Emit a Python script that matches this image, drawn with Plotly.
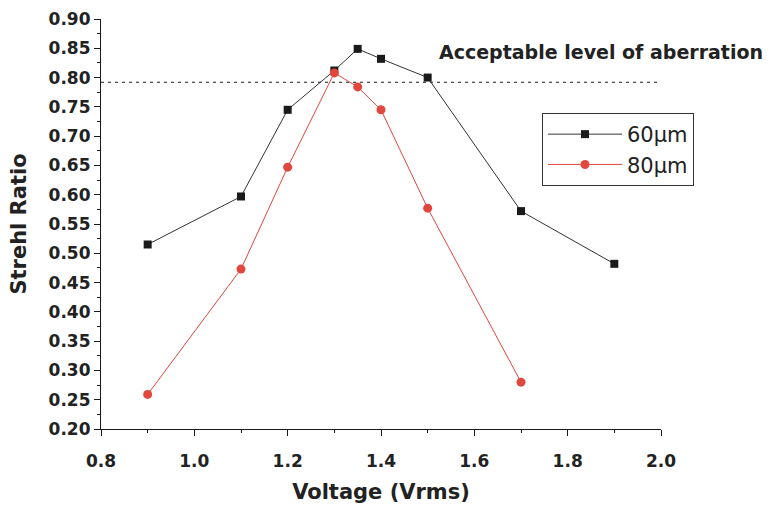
import plotly.graph_objects as go

# Measured Strehl ratio against drive voltage for two cell thicknesses
voltage_60 = [0.9, 1.1, 1.2, 1.3, 1.35, 1.4, 1.5, 1.7, 1.9]
strehl_60 = [0.515, 0.597, 0.745, 0.812, 0.849, 0.832, 0.800, 0.572, 0.482]

voltage_80 = [0.9, 1.1, 1.2, 1.3, 1.35, 1.4, 1.5, 1.7]
strehl_80 = [0.259, 0.473, 0.647, 0.808, 0.784, 0.745, 0.577, 0.280]

acceptable_level = 0.792
x_ticks = [0.8, 1.0, 1.2, 1.4, 1.6, 1.8, 2.0]
y_ticks = [0.20, 0.25, 0.30, 0.35, 0.40, 0.45, 0.50, 0.55, 0.60,
           0.65, 0.70, 0.75, 0.80, 0.85, 0.90]

BLACK = "#1a1a1a"
RED = "#e2473d"
BOLD = "DejaVu Sans"

fig = go.Figure()

# Acceptable-level threshold
fig.add_trace(go.Scatter(
    x=[0.8, 2.0], y=[acceptable_level, acceptable_level],
    mode="lines", line=dict(color=BLACK, width=1.2, dash="3px,4px"),
    showlegend=False, hoverinfo="skip"))

fig.add_trace(go.Scatter(
    x=voltage_60, y=strehl_60, mode="lines+markers", name="60µm",
    line=dict(color="#333333", width=1),
    marker=dict(symbol="square", size=8, color=BLACK)))

fig.add_trace(go.Scatter(
    x=voltage_80, y=strehl_80, mode="lines+markers", name="80µm",
    line=dict(color=RED, width=1),
    marker=dict(symbol="circle", size=9, color=RED)))

axis_common = dict(
    showline=True, linecolor=BLACK, linewidth=1.2, mirror=False,
    showgrid=False, zeroline=False, ticks="outside", ticklen=6,
    tickcolor=BLACK, tickwidth=1.2, automargin=False,
    tickfont=dict(family=BOLD, size=17, color="#222222", weight="bold"),
)

fig.update_xaxes(
    range=[0.8, 2.0], tickvals=x_ticks, ticktext=[f"{v:.1f}" for v in x_ticks],
    ticklabelstandoff=10,
    minor=dict(ticks="outside", ticklen=3, dtick=0.1, tick0=0.8, tickcolor=BLACK),
    title=dict(text="Voltage (Vrms)", standoff=14,
               font=dict(family=BOLD, size=21, color="#222222", weight="bold")),
    **axis_common)

fig.update_yaxes(
    range=[0.20, 0.90], tickvals=y_ticks, ticktext=[f"{v:.2f}" for v in y_ticks],
    minor=dict(ticks="outside", ticklen=3, dtick=0.025, tick0=0.2, tickcolor=BLACK),
    title=dict(text="Strehl Ratio", standoff=16,
               font=dict(family=BOLD, size=21, color="#222222", weight="bold")),
    **axis_common)

fig.add_annotation(
    text="Acceptable level of aberration", xref="paper", yref="y",
    x=(437 - 101) / 560, y=0.843, xanchor="left", yanchor="middle",
    showarrow=False,
    font=dict(family=BOLD, size=19, color="#222222", weight="bold"))

fig.update_layout(
    width=772, height=509,
    margin=dict(l=101, r=111, t=19, b=80, autoexpand=False),
    paper_bgcolor="white", plot_bgcolor="white",
    legend=dict(
        x=(542 - 101) / 560, y=(429 - 113) / 410, xanchor="left", yanchor="top",
        bordercolor="#333333", borderwidth=1, bgcolor="white",
        font=dict(family="DejaVu Sans", size=21, color="#222222"),
        itemwidth=74, tracegroupgap=0),
)

fig.write_html("out.html")
